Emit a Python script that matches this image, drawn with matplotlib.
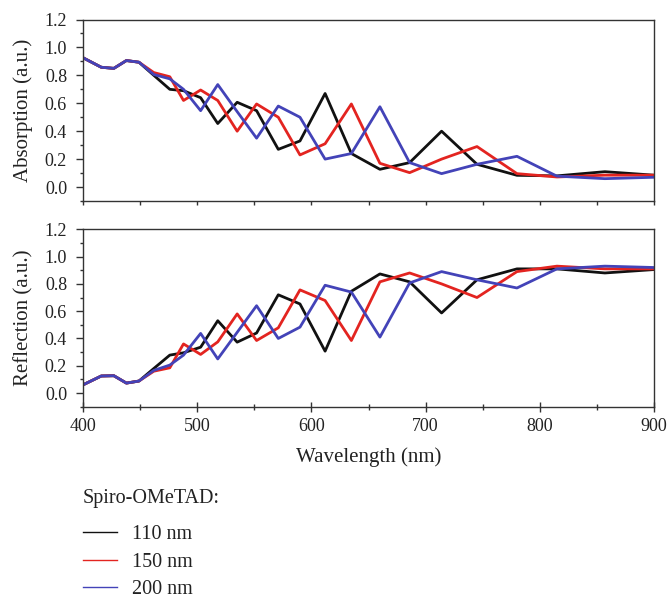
import matplotlib
matplotlib.use("Agg")
import matplotlib.pyplot as plt
from matplotlib.ticker import MultipleLocator

plt.rcParams['font.family'] = ['Liberation Serif', 'DejaVu Serif']
plt.rcParams['font.size'] = 13

# ---- data ----
wavelength = [400, 416, 427, 438, 449, 462, 476, 488, 503, 518, 535, 552,
              571, 590, 612, 635, 660, 686, 714, 745, 780, 815, 857, 900]

abs_110 = [0.926, 0.858, 0.85, 0.906, 0.894, 0.80, 0.70, 0.69, 0.64, 0.455, 0.607, 0.547,
           0.27, 0.33, 0.67, 0.24, 0.127, 0.175, 0.40, 0.163, 0.084, 0.08, 0.11, 0.085]
abs_150 = [0.926, 0.858, 0.85, 0.906, 0.894, 0.82, 0.79, 0.62, 0.695, 0.62, 0.40, 0.595,
           0.50, 0.23, 0.31, 0.595, 0.17, 0.103, 0.20, 0.29, 0.096, 0.072, 0.085, 0.085]
abs_200 = [0.926, 0.858, 0.85, 0.906, 0.894, 0.806, 0.775, 0.70, 0.547, 0.734, 0.54, 0.35,
           0.58, 0.50, 0.20, 0.24, 0.575, 0.175, 0.096, 0.163, 0.22, 0.078, 0.06, 0.07]

ref_110 = [0.06, 0.125, 0.127, 0.073, 0.088, 0.18, 0.278, 0.295, 0.336, 0.53, 0.373, 0.44,
           0.72, 0.653, 0.307, 0.746, 0.873, 0.815, 0.587, 0.83, 0.91, 0.91, 0.88, 0.905]
ref_150 = [0.06, 0.125, 0.127, 0.073, 0.088, 0.16, 0.185, 0.36, 0.283, 0.375, 0.58, 0.385,
           0.478, 0.756, 0.678, 0.385, 0.815, 0.88, 0.80, 0.70, 0.89, 0.93, 0.91, 0.91]
ref_200 = [0.06, 0.125, 0.127, 0.073, 0.088, 0.166, 0.205, 0.278, 0.437, 0.25, 0.445, 0.64,
           0.40, 0.483, 0.79, 0.74, 0.41, 0.807, 0.89, 0.83, 0.77, 0.91, 0.93, 0.92]

labels = ['110 nm', '150 nm', '200 nm']
colors = ['#111111', '#e32420', '#4343b8']
legend_title = 'Spiro-OMeTAD:'

TICK_FS = 13
LABEL_FS = 15
LEG_FS = 14.5
TXT_C = '#222222'

W, H = 669, 599
fig = plt.figure(figsize=(W / 100, H / 100), dpi=100)

ax1 = fig.add_axes([83 / W, 1 - 201 / H, 571 / W, 181.5 / H])
ax2 = fig.add_axes([83 / W, 1 - 406.7 / H, 571 / W, 177.4 / H])

for ys, c, lab in zip([abs_110, abs_150, abs_200], colors, labels):
    ax1.plot(wavelength, ys, color=c, lw=2.0, label=lab)
for ys, c, lab in zip([ref_110, ref_150, ref_200], colors, labels):
    ax2.plot(wavelength, ys, color=c, lw=2.0, label=lab)

spine_c = '#333333'
for ax, ylab in [(ax1, 'Absorption (a.u.)'), (ax2, 'Reflection (a.u.)')]:
    ax.set_xlim(400, 900)
    ax.set_ylim(-0.1, 1.2)
    ax.xaxis.set_major_locator(MultipleLocator(100))
    ax.xaxis.set_minor_locator(MultipleLocator(50))
    ax.yaxis.set_major_locator(MultipleLocator(0.2))
    ax.yaxis.set_minor_locator(MultipleLocator(0.1))
    ax.yaxis.set_major_formatter(plt.FormatStrFormatter('%.1f'))
    for s in ax.spines.values():
        s.set_color(spine_c)
        s.set_linewidth(1.0)
    ax.tick_params(axis='y', which='major', direction='out', length=5, width=1,
                   color=spine_c, labelsize=TICK_FS, pad=6.5, labelcolor=TXT_C)
    ax.tick_params(axis='y', which='minor', direction='out', length=2.5, width=1,
                   color=spine_c)
    ax.set_ylabel(ylab, fontsize=LABEL_FS, color=TXT_C)
    ax.yaxis.set_label_coords(-0.087, 0.5)

ax1.tick_params(axis='x', which='both', direction='out', length=3, width=1,
                color=spine_c, labelbottom=False)
ax2.tick_params(axis='x', which='major', direction='inout', length=7, width=1,
                color=spine_c, labelsize=TICK_FS, pad=4.5, labelcolor=TXT_C)
ax2.tick_params(axis='x', which='minor', direction='inout', length=5, width=1,
                color=spine_c)
ax2.set_xlabel('Wavelength (nm)', fontsize=LABEL_FS, color=TXT_C)
ax2.xaxis.set_label_coords(0.5, -0.228)

fig.text(83 / W, 1 - 498 / H, legend_title, ha='left', va='center',
         fontsize=LEG_FS, color=TXT_C)
leg_handles = [plt.Line2D([], [], color=c, lw=1.0) for c in colors]
fig.legend(leg_handles, labels, loc='upper left',
           bbox_to_anchor=(83 / W, 1 - 525 / H), frameon=False,
           fontsize=LEG_FS, handlelength=1.7, handletextpad=0.75,
           labelspacing=0.42, borderpad=0, borderaxespad=0,
           labelcolor=TXT_C)

fig.savefig('out.png', dpi=100)
